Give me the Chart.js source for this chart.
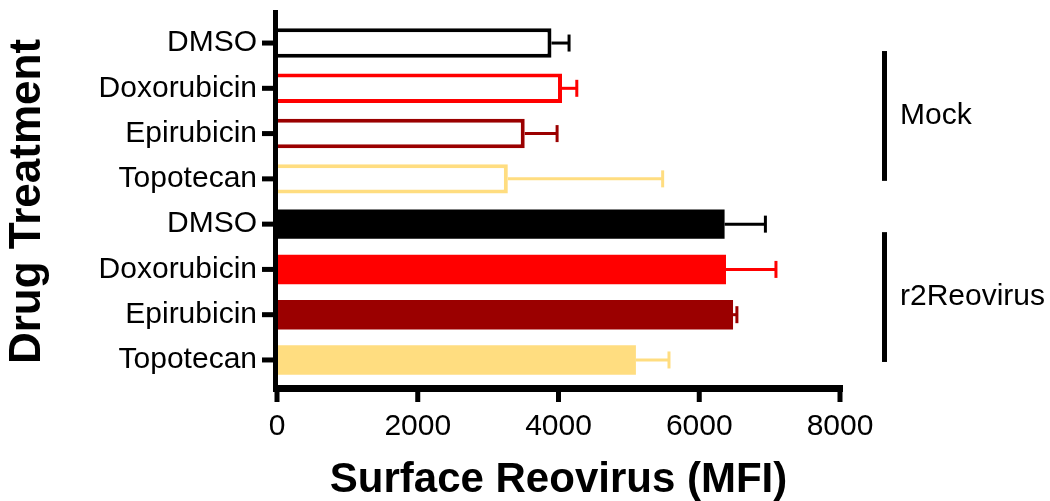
<!DOCTYPE html>
<html>
<head>
<meta charset="utf-8">
<script src="https://cdn.jsdelivr.net/npm/chart.js@4.4.1/dist/chart.umd.min.js"></script>
<style>
  html, body { margin: 0; padding: 0; background: #fff; }
  canvas { display: block; }
</style>
</head>
<body>
<canvas id="myChart" width="1050" height="501"></canvas>
<script>
// Drug treatment categories, top to bottom
let drugs = ['DMSO', 'Doxorubicin', 'Epirubicin', 'Topotecan', 'DMSO', 'Doxorubicin', 'Epirubicin', 'Topotecan'];
// Surface reovirus MFI (mean and SD)
let meanMFI = [3900, 4050, 3520, 3280, 6360, 6380, 6480, 5100];
let sdMFI = [250, 210, 460, 2200, 580, 710, 55, 470];
let lineColors = ['#000000', '#ff0000', '#9b0000', '#ffdd80', '#000000', '#ff0000', '#9b0000', '#ffdd80'];
let fillColors = ['#ffffff', '#ffffff', '#ffffff', '#ffffff', '#000000', '#ff0000', '#9b0000', '#ffdd80'];
let xTicks = [0, 2000, 4000, 6000, 8000];
// infection groups (index ranges into drugs)
let groupNames = ['Mock', 'r2Reovirus'];
let groupFirst = [0, 4];
let groupLast = [3, 7];

const FONT = "'Liberation Sans', Arial, Helvetica, sans-serif";

// axes, error bars and group brackets drawn prism-style
let prismPlugin = {
    id: 'prismExtras',
    afterDatasetsDraw(chart) {
        const ctx = chart.ctx;
        const xs = chart.scales.x, ys = chart.scales.y;
        ctx.save();
        ctx.lineWidth = 3;
        meanMFI.forEach((m, i) => {
            const y = ys.getPixelForValue(i);
            const x0 = xs.getPixelForValue(m);
            const x1 = xs.getPixelForValue(m + sdMFI[i]);
            ctx.strokeStyle = lineColors[i];
            ctx.beginPath();
            ctx.moveTo(x0, y);
            ctx.lineTo(x1, y);
            ctx.stroke();
            ctx.beginPath();
            ctx.moveTo(x1, y - 8.5);
            ctx.lineTo(x1, y + 8.5);
            ctx.stroke();
        });
        ctx.restore();
    },
    afterDraw(chart) {
        const ctx = chart.ctx;
        const xs = chart.scales.x, ys = chart.scales.y;
        const x0 = xs.getPixelForValue(0);
        const xEnd = xs.getPixelForValue(8000);
        ctx.save();
        ctx.fillStyle = '#000';
        // y axis line + ticks
        ctx.fillRect(x0 - 4, 10, 5, 382);
        drugs.forEach((d, i) => {
            const y = ys.getPixelForValue(i);
            ctx.fillRect(x0 - 15, y - 2.5, 12, 5);
        });
        // x axis line + ticks
        ctx.fillRect(x0 - 4, 385, xEnd + 3 - (x0 - 4), 7);
        xTicks.forEach(v => {
            const x = xs.getPixelForValue(v);
            ctx.fillRect(x - 2.5, 390, 5, 12);
        });
        // group brackets
        ctx.font = '30px ' + FONT;
        ctx.textBaseline = 'middle';
        ctx.textAlign = 'left';
        groupNames.forEach((g, k) => {
            const top = ys.getPixelForValue(groupFirst[k]) + 8;
            const bot = ys.getPixelForValue(groupLast[k]) + 2;
            ctx.fillRect(882, top, 5, bot - top);
            ctx.fillText(g, 900, (top + bot) / 2);
        });
        ctx.restore();
    }
};

let myChart = document.getElementById("myChart").getContext('2d');

let chart = new Chart(myChart, {
    type: 'bar',
    data: {
        labels: drugs,
        datasets: [{
            data: meanMFI,
            backgroundColor: fillColors,
            borderColor: lineColors,
            borderWidth: [4, 4, 4, 4, 0, 0, 0, 0],
            borderSkipped: 'start',
            barPercentage: 0.65,
            categoryPercentage: 1
        }]
    },
    options: {
        indexAxis: 'y',
        responsive: false,
        animation: false,
        layout: {
            padding: { top: 20.4, right: 210, left: 0, bottom: 0 }
        },
        plugins: {
            legend: { display: false },
            tooltip: { enabled: false }
        },
        scales: {
            x: {
                min: 0,
                max: 8000,
                afterBuildTicks: (scale) => { scale.ticks = xTicks.map(v => ({ value: v })); },
                afterFit: (scale) => { scale.height = 118.4; },
                grid: { display: false, drawTicks: false },
                border: { display: false },
                ticks: {
                    color: '#000',
                    padding: 26,
                    maxRotation: 0,
                    callback: (v) => String(v),
                    font: { family: FONT, size: 30 }
                },
                title: {
                    display: true,
                    text: 'Surface Reovirus (MFI)',
                    color: '#000',
                    font: { family: FONT, size: 42, weight: 'bold', lineHeight: 1 },
                    padding: { top: 0, bottom: 0 }
                }
            },
            y: {
                afterFit: (scale) => {
                    scale.width = 277;
                    scale.paddingTop = 0;
                    scale.paddingBottom = 0;
                },
                grid: { display: false, drawTicks: false },
                border: { display: false },
                ticks: {
                    color: '#000',
                    padding: 20,
                    font: { family: FONT, size: 30 }
                },
                title: {
                    display: true,
                    text: 'Drug Treatment',
                    color: '#000',
                    font: { family: FONT, size: 44, weight: 'bold', lineHeight: 1 },
                    padding: { top: 6, bottom: 0 }
                }
            }
        }
    },
    plugins: [prismPlugin]
});
</script>
</body>
</html>
